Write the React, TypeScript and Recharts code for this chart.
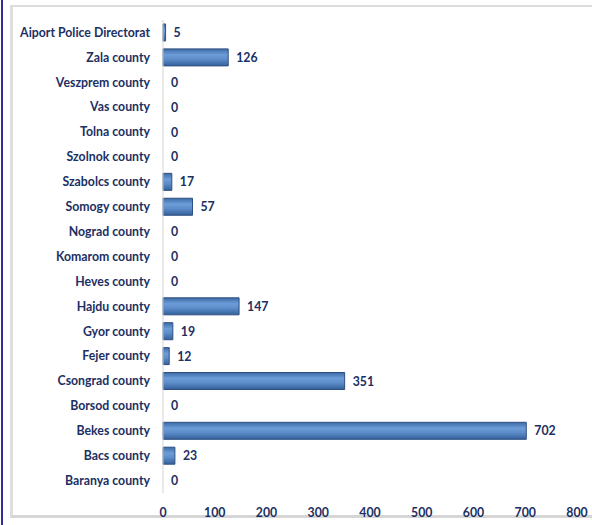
import { BarChart, Bar, XAxis, YAxis, LabelList, Rectangle } from 'recharts';

const categories = [
  'Aiport Police Directorat',
  'Zala county',
  'Veszprem county',
  'Vas county',
  'Tolna county',
  'Szolnok county',
  'Szabolcs county',
  'Somogy county',
  'Nograd county',
  'Komarom county',
  'Heves county',
  'Hajdu county',
  'Gyor county',
  'Fejer county',
  'Csongrad county',
  'Borsod county',
  'Bekes county',
  'Bacs county',
  'Baranya county',
];
const values = [5, 126, 0, 0, 0, 0, 17, 57, 0, 0, 0, 147, 19, 12, 351, 0, 702, 23, 0];
const xTicks = [0, 100, 200, 300, 400, 500, 600, 700, 800];

const chartData = categories.map((name, i) => ({ name, value: values[i] }));

const labelColor = '#1c2f63';
const font = 'Lato, "Open Sans", sans-serif';
const textStyle = { fontSize: 12.3, fontWeight: 700, fill: labelColor, fontFamily: font };

// zero bars get a hairline width so their label still shows; don't paint them
const BarShape = (props: any) => {
  if (!props.value) return <g />;
  return <Rectangle {...props} />;
};

const ValueLabel = (props: any) => {
  const { x, y, width, height, value } = props;
  const w = value ? Number(width) : 0;
  return (
    <text x={Number(x) + w + 8} y={Number(y) + Number(height) / 2} dy={4.5} style={textStyle}>
      {value}
    </text>
  );
};

export default function App() {
  return (
    <div style={{ position: 'absolute', left: 0, top: 0, width: 592, height: 525, overflow: 'hidden', background: '#fff' }}>
      <div style={{ position: 'absolute', left: 1, top: 0, width: 2, height: 525, background: '#2f2f9c' }} />
      <div
        style={{
          position: 'absolute', left: 10, top: 5, width: 600, height: 513,
          borderTop: '2px solid #dcdcdc', borderLeft: '3px solid #dedede', borderBottom: '3px solid #d6d6d6',
          boxSizing: 'border-box',
        }}
      />
      <div style={{ position: 'absolute', left: 0, top: 0 }}>
        <BarChart
          width={592}
          height={525}
          data={chartData}
          layout="vertical"
          margin={{ top: 20, right: 15, left: 0, bottom: 8 }}
          barCategoryGap="16%"
        >
          <defs>
            <linearGradient id="barFill" x1="0" y1="0" x2="0" y2="1">
              <stop offset="0%" stopColor="#3d6aa6" />
              <stop offset="35%" stopColor="#6d9dd8" />
              <stop offset="60%" stopColor="#5d8dca" />
              <stop offset="100%" stopColor="#34609a" />
            </linearGradient>
          </defs>
          <XAxis
            type="number"
            domain={[0, 800]}
            ticks={xTicks}
            axisLine={false}
            tickLine={false}
            height={24}
            tickSize={0}
            tickMargin={15}
            tick={textStyle}
          />
          <YAxis
            type="category"
            dataKey="name"
            width={163}
            axisLine={{ stroke: '#d4d4d4' }}
            tickLine={false}
            tickSize={0}
            tickMargin={13}
            interval={0}
            tick={textStyle}
          />
          <Bar
            dataKey="value"
            fill="url(#barFill)"
            stroke="#2e4f80"
            strokeWidth={1}
            minPointSize={0.5}
            shape={BarShape}
            isAnimationActive={false}
          >
            <LabelList dataKey="value" content={ValueLabel} />
          </Bar>
        </BarChart>
      </div>
    </div>
  );
}
